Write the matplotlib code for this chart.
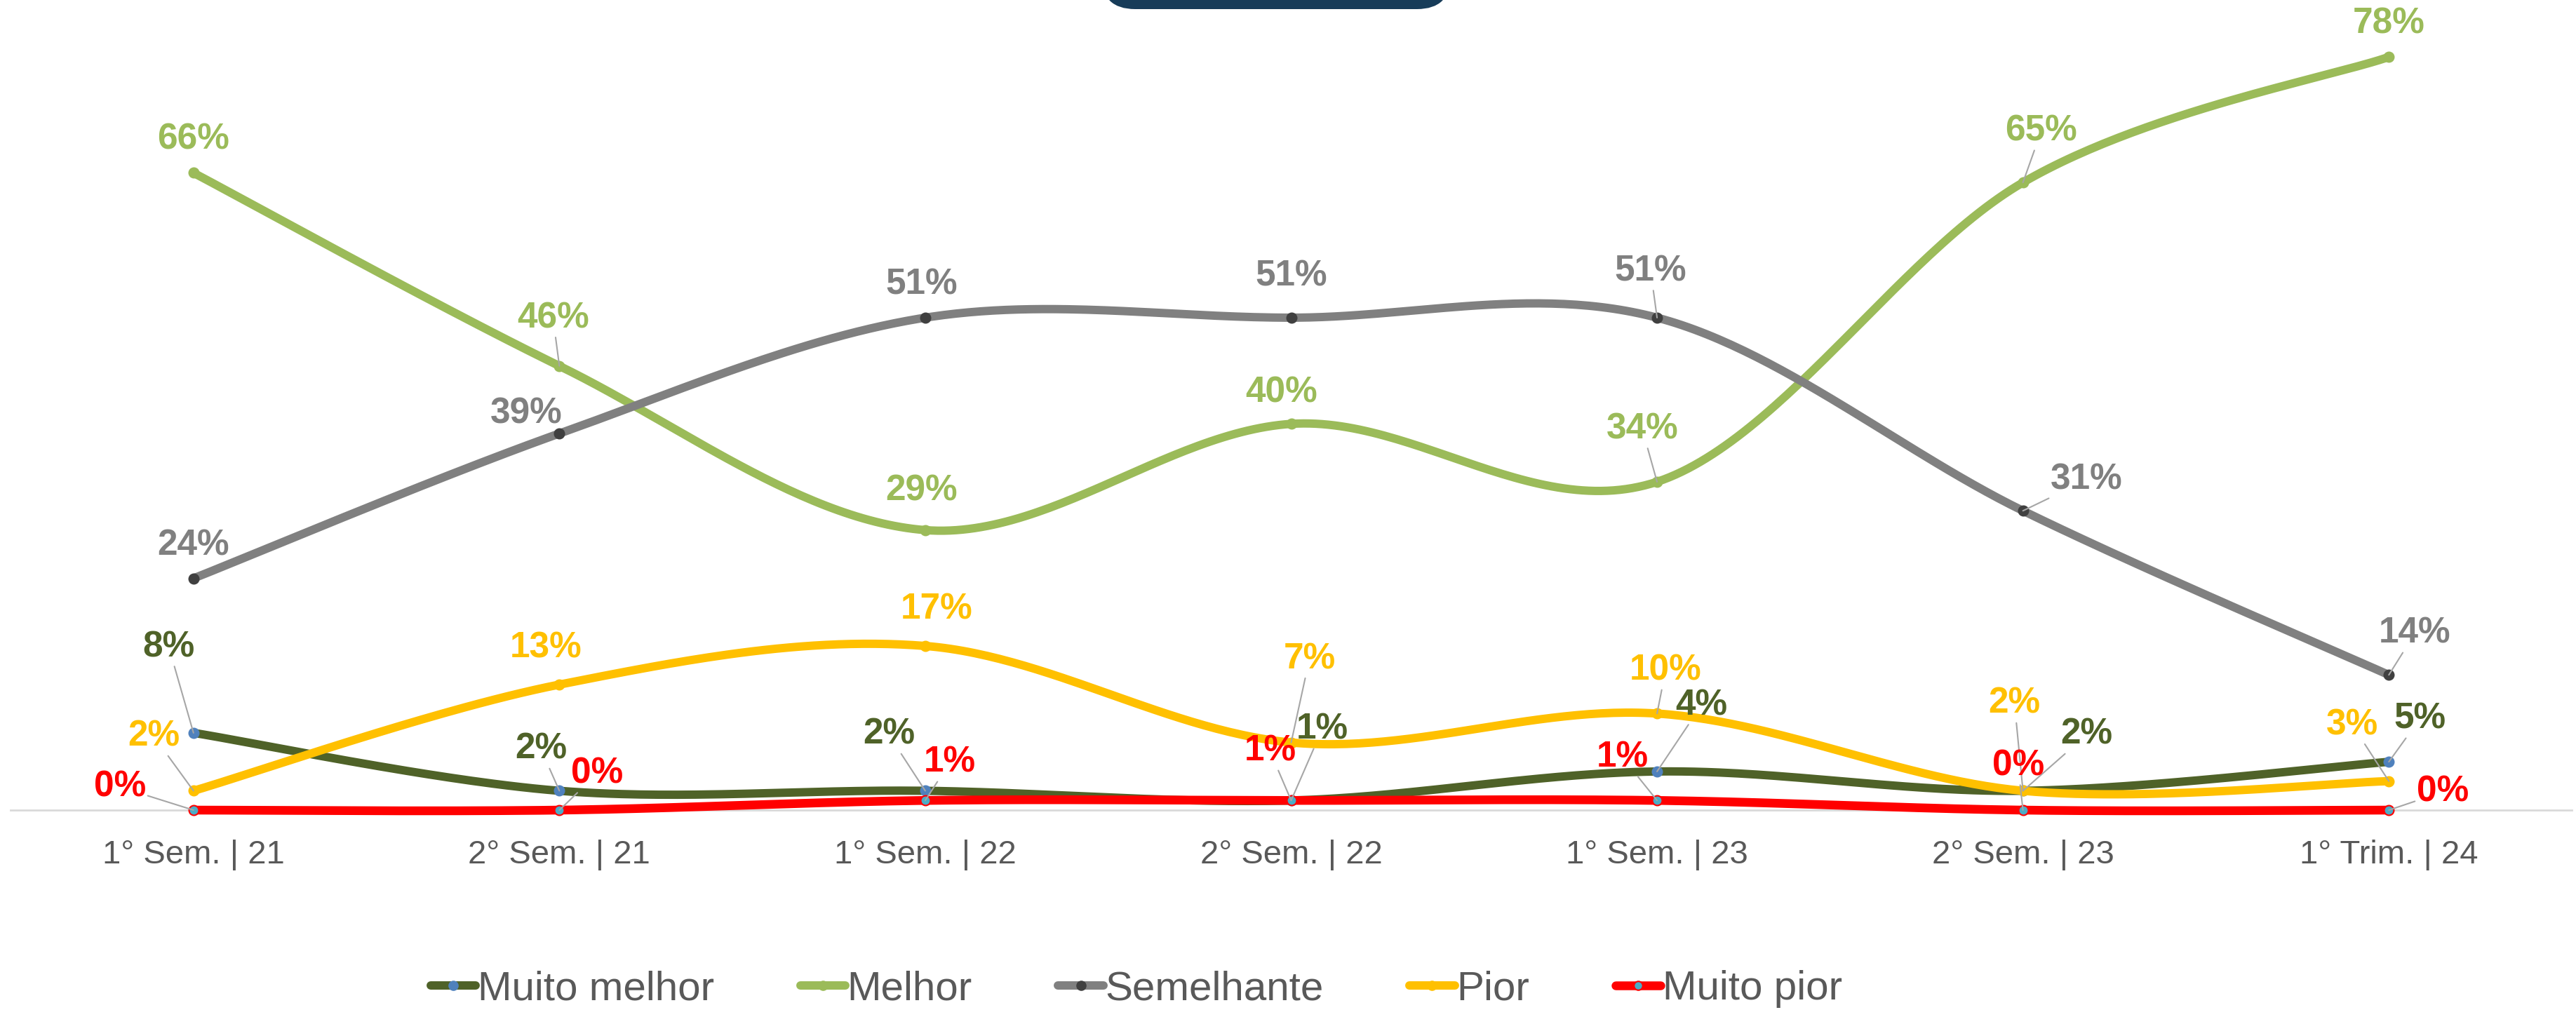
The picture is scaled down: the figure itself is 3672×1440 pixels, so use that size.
import numpy as np
import matplotlib
matplotlib.use("Agg")
import matplotlib.pyplot as plt
from matplotlib.lines import Line2D
from matplotlib.patches import FancyBboxPatch

plt.rcParams['font.family'] = ['Liberation Sans', 'DejaVu Sans']

# ---------------- data ----------------
categories = ["1° Sem. | 21", "2° Sem. | 21", "1° Sem. | 22", "2° Sem. | 22",
              "1° Sem. | 23", "2° Sem. | 23", "1° Trim. | 24"]
series_names = ["Muito melhor", "Melhor", "Semelhante", "Pior", "Muito pior"]
muito_melhor = [8, 2, 2, 1, 4, 2, 5]
melhor = [66, 46, 29, 40, 34, 65, 78]
semelhante = [24, 39, 51, 51, 51, 31, 14]
pior = [2, 13, 17, 7, 10, 2, 3]
muito_pior = [0, 0, 1, 1, 1, 0, 0]

# ---------------- styles ----------------
line_colors = ["#4F6228", "#9BBB59", "#808080", "#FFC000", "#FF0000"]
marker_face = ["#4F81BD", "#9BBB59", "#404040", "#FFC000", "#4BACC6"]
marker_edge = ["#4F81BD", "#9BBB59", "#404040", "#FFC000", "#FF0000"]
label_colors = ["#4F6228", "#9BBB59", "#808080", "#FFC000", "#FF0000"]
line_widths = [8.6, 8.6, 8.6, 8.6, 9.0]

# label offsets in pixels (dx, dy) relative to each point
label_offsets = [
    [(-35, 122), (-26, 59), (-52, 80), (44, 101), (63, 94), (91, 80), (44, 61)],
    [(0, 47), (-9, 68), (-5, 56), (-14, 44), (-21, 75), (26, 73), (0, 47)],
    [(0, 47), (-47, 28), (-5, 47), (0, 59), (-9, 66), (91, 44), (37, 59)],
    [(-56, 77), (-19, 52), (16, 52), (26, 119), (12, 61), (-12, 124), (-52, 80)],
    [(-105, 33), (54, 52), (35, 54), (-30, 70), (-49, 61), (-7, 63), (77, 26)],
]

W, H = 3672, 1440
fig = plt.figure(figsize=(W / 100, H / 100), dpi=100)
ax = fig.add_axes([15 / W, 285 / H, (3666 - 15) / W, 1155 / H])
ax.set_xlim(-0.5, len(categories) - 0.5)
ax.set_ylim(0, 83.9)


def smooth(xs, ys, n=60):
    xs = np.asarray(xs, float)
    ys = np.asarray(ys, float)
    P = np.column_stack([xs, ys])
    Pext = np.vstack([P[0], P, P[-1]])
    out = []
    t = np.linspace(0, 1, n)[:, None]
    for i in range(len(P) - 1):
        p0, p1, p2, p3 = Pext[i], Pext[i + 1], Pext[i + 2], Pext[i + 3]
        c1 = p1 + (p2 - p0) / 6.0
        c2 = p2 - (p3 - p1) / 6.0
        seg = ((1 - t) ** 3) * p1 + 3 * ((1 - t) ** 2) * t * c1 + 3 * (1 - t) * t ** 2 * c2 + t ** 3 * p2
        out.append(seg if i == 0 else seg[1:])
    out = np.vstack(out)
    return out[:, 0], out[:, 1]


all_series = [muito_melhor, melhor, semelhante, pior, muito_pior]
x = np.arange(len(categories))

for k, vals in enumerate(all_series):
    sx, sy = smooth(x, vals)
    ax.plot(sx, sy, color=line_colors[k], lw=line_widths[k], solid_capstyle='round',
            zorder=2 + k, clip_on=False)
    ax.plot(x, vals, ls='none', marker='o', ms=10, mfc=marker_face[k],
            mec=marker_edge[k], mew=1.5, zorder=2.5 + k, clip_on=False)

for k, vals in enumerate(all_series):
    for i, v in enumerate(vals):
        dx, dy = label_offsets[k][i]
        dist = np.hypot(dx, dy)
        arrow = dict(arrowstyle='-', color='#A6A6A6', lw=1.5, shrinkA=0, shrinkB=0) if dist > 60 else None
        ax.annotate(f"{v}%", xy=(i, v), xytext=(dx, dy), textcoords='offset pixels',
                    ha='center', va='center', fontsize=37, fontweight='bold',
                    color=label_colors[k], arrowprops=arrow, zorder=20, annotation_clip=False)

# axis styling
for s in ['top', 'right', 'left']:
    ax.spines[s].set_visible(False)
ax.spines['bottom'].set_color('#D9D9D9')
ax.spines['bottom'].set_linewidth(2)
ax.set_yticks([])
ax.set_xticks(x)
ax.set_xticklabels(categories, fontsize=34, color='#595959')
ax.tick_params(axis='x', length=0, pad=30)
ax.patch.set_alpha(0)

# legend
handles = [Line2D([0], [0], color=line_colors[k], lw=line_widths[k], marker='o', ms=9,
                  mfc=marker_face[k], mec=marker_edge[k], mew=1.5, solid_capstyle='round')
           for k in range(len(series_names))]
fig.legend(handles, series_names, loc='center', bbox_to_anchor=(1620 / W, 1 - 1410 / H),
           ncol=5, frameon=False, fontsize=42, handlelength=1.1, handletextpad=0.05,
           columnspacing=2.1, labelcolor='#595959')

# dark rounded box at top (title banner, cut off)
fig.patches.append(FancyBboxPatch((1570, H - 13), 2068 - 1570, 200,
                                  boxstyle="round,pad=0,rounding_size=48",
                                  transform=None, facecolor='#173C59', edgecolor='none', zorder=0))

fig.savefig("out.png", dpi=100)
